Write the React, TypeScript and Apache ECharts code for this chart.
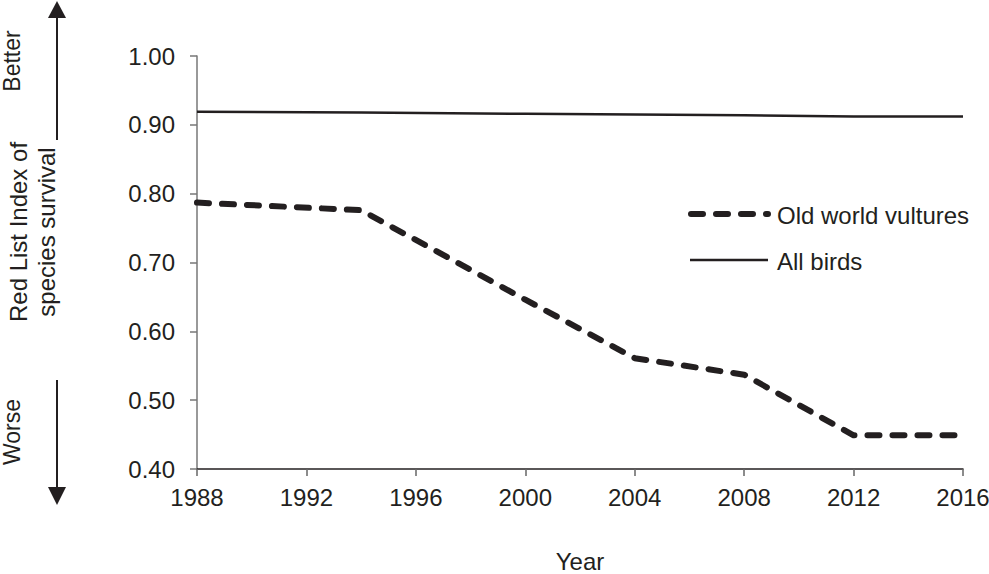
import React, { useEffect, useRef } from "react";
import * as echarts from "echarts";

const years = [1988, 1994, 2000, 2004, 2008, 2012, 2016];
const vultures = [0.787, 0.776, 0.646, 0.561, 0.537, 0.449, 0.449];
const allBirds = [0.919, 0.918, 0.916, 0.915, 0.914, 0.912, 0.912];
const seriesNames = ["Old world vultures", "All birds"];
const yTitle = "Red List Index of\nspecies survival";
const xTitle = "Year";
const better = "Better";
const worse = "Worse";

const INK = "#231f20";
const FONT = "'Liberation Sans', Arial, sans-serif";

export default function App() {
  const ref = useRef<HTMLDivElement>(null);
  useEffect(() => {
    if (!ref.current) return;
    const chart = echarts.init(ref.current, undefined, { renderer: "svg" });
    const pairs = (vals: number[]) => years.map((y, i) => [y, vals[i]]);
    chart.setOption({
      animation: false,
      backgroundColor: "#ffffff",
      textStyle: { fontFamily: FONT, color: INK },
      grid: { left: 197, right: 26, top: 56, bottom: 105, containLabel: false, outerBoundsMode: "none" },
      xAxis: {
        type: "value",
        min: 1988,
        max: 2016,
        interval: 4,
        name: xTitle,
        nameLocation: "middle",
        nameGap: 80,
        nameTextStyle: { fontSize: 24, color: INK, fontFamily: FONT },
        axisLine: { show: true, lineStyle: { color: INK, width: 1.5 } },
        axisTick: { show: true, length: 7, lineStyle: { color: "#666", width: 1.5 } },
        axisLabel: {
          fontSize: 24,
          color: INK,
          fontFamily: FONT,
          margin: 16,
          formatter: (v: number) => String(v),
        },
        splitLine: { show: false },
      },
      yAxis: {
        type: "value",
        min: 0.4,
        max: 1.0,
        interval: 0.1,
        axisLine: { show: true, lineStyle: { color: "#777", width: 1.5 } },
        axisTick: { show: true, length: 7, lineStyle: { color: "#777", width: 1.5 } },
        axisLabel: {
          fontSize: 24,
          color: INK,
          fontFamily: FONT,
          margin: 22,
          formatter: (v: number) => v.toFixed(2),
        },
        splitLine: { show: false },
      },
      series: [
        {
          name: seriesNames[0],
          type: "line",
          data: pairs(vultures),
          symbol: "none",
          lineStyle: { color: INK, width: 6, type: [12, 13], cap: "round", join: "round" },
          z: 3,
        },
        {
          name: seriesNames[1],
          type: "line",
          data: pairs(allBirds),
          symbol: "none",
          lineStyle: { color: INK, width: 2.5 },
          z: 2,
        },
      ],
      graphic: [
        { type: "line", shape: { x1: 57, y1: 140, x2: 57, y2: 17 }, style: { stroke: INK, lineWidth: 2 } },
        { type: "polygon", shape: { points: [[48, 18], [66, 18], [57, 1]] }, style: { fill: INK } },
        { type: "line", shape: { x1: 57, y1: 380, x2: 57, y2: 488 }, style: { stroke: INK, lineWidth: 2 } },
        { type: "polygon", shape: { points: [[48, 487], [66, 487], [57, 505]] }, style: { fill: INK } },
        {
          type: "text", x: 12, y: 61, rotation: Math.PI / 2,
          style: { text: better, fontSize: 23, fontFamily: FONT, fill: INK, align: "center", verticalAlign: "middle" },
        },
        {
          type: "text", x: 12, y: 432, rotation: Math.PI / 2,
          style: { text: worse, fontSize: 23, fontFamily: FONT, fill: INK, align: "center", verticalAlign: "middle" },
        },
        {
          type: "text", x: 32, y: 232, rotation: Math.PI / 2,
          style: { text: yTitle, fontSize: 24, lineHeight: 28, fontFamily: FONT, fill: INK, align: "center", verticalAlign: "middle" },
        },
        {
          type: "line", shape: { x1: 691, y1: 214, x2: 768, y2: 214 },
          style: { stroke: INK, lineWidth: 6, lineDash: [12, 13], lineCap: "round" },
        },
        {
          type: "text", x: 777, y: 215,
          style: { text: seriesNames[0], fontSize: 24, fontFamily: FONT, fill: INK, align: "left", verticalAlign: "middle" },
        },
        { type: "line", shape: { x1: 690, y1: 260, x2: 768, y2: 260 }, style: { stroke: INK, lineWidth: 2.5 } },
        {
          type: "text", x: 777, y: 261,
          style: { text: seriesNames[1], fontSize: 24, fontFamily: FONT, fill: INK, align: "left", verticalAlign: "middle" },
        },
      ],
    });
    return () => chart.dispose();
  }, []);
  return (
    <div
      ref={ref}
      style={{ position: "fixed", left: 0, top: 0, width: 989, height: 574, background: "#fff" }}
    />
  );
}
